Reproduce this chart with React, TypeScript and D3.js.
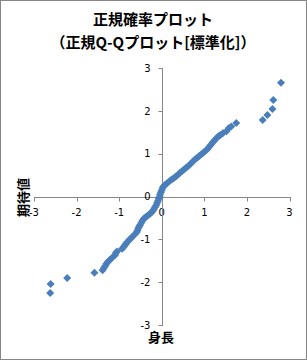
import * as React from 'react';
import { useEffect, useRef } from 'react';
import * as d3 from 'd3';

// standardized height (x) and expected normal value (y)
const heightZ = [
  -2.62, -2.61, -2.22, -1.58, -1.39, -1.36, -1.33, -1.30, -1.27, -1.22,
  -1.18, -1.10, -1.08, -1.05, -0.93, -0.90, -0.87, -0.84, -0.81, -0.77,
  -0.73, -0.69, -0.62, -0.59, -0.57, -0.55, -0.53, -0.51, -0.48, -0.45,
  -0.42, -0.38, -0.34, -0.30, -0.26, -0.22, -0.19, -0.16, -0.13, -0.11,
  -0.09, -0.07, -0.05, -0.04, -0.02, 0.00, 0.02, 0.04, 0.08, 0.13,
  0.18, 0.23, 0.28, 0.33, 0.38, 0.43, 0.48, 0.53, 0.58, 0.63,
  0.68, 0.73, 0.78, 0.83, 0.88, 0.93, 0.98, 1.03, 1.08, 1.12,
  1.16, 1.20, 1.24, 1.29, 1.33, 1.38, 1.44, 1.52, 1.57, 1.63,
  1.75, 2.37, 2.48, 2.60, 2.62, 2.80,
];
const expected = [
  -2.25, -2.04, -1.90, -1.78, -1.72, -1.67, -1.62, -1.57, -1.53, -1.48,
  -1.44, -1.37, -1.32, -1.28, -1.22, -1.18, -1.14, -1.10, -1.06, -1.02,
  -0.98, -0.94, -0.87, -0.83, -0.79, -0.74, -0.70, -0.66, -0.61, -0.56,
  -0.51, -0.48, -0.45, -0.42, -0.39, -0.35, -0.30, -0.25, -0.20, -0.15,
  -0.10, -0.05, 0.00, 0.05, 0.10, 0.15, 0.20, 0.24, 0.28, 0.32,
  0.36, 0.40, 0.43, 0.47, 0.51, 0.56, 0.60, 0.64, 0.68, 0.72,
  0.77, 0.82, 0.87, 0.91, 0.95, 0.99, 1.03, 1.07, 1.12, 1.17,
  1.22, 1.27, 1.32, 1.37, 1.41, 1.44, 1.49, 1.53, 1.60, 1.64,
  1.72, 1.79, 1.91, 2.05, 2.26, 2.66,
];
const ticks = [-3, -2, -1, 0, 1, 2, 3];
const titleLines = ['正規確率プロット', '（正規Q-Qプロット[標準化]）'];
const xTitle = '身長';
const yTitle = '期待値';

const W = 307;
const H = 360;
const axisColor = '#868686';
const markerColor = '#4A7EBB';
const font = '"Noto Sans CJK JP", "DejaVu Sans", sans-serif';

export default function App() {
  const ref = useRef<SVGSVGElement>(null);

  useEffect(() => {
    const svg = d3.select(ref.current);
    svg.selectAll('*').remove();

    const x = d3.scaleLinear().domain([-3, 3]).range([34, 289.5]);
    const y = d3.scaleLinear().domain([-3, 3]).range([325, 68.3]);
    const x0 = Math.round(x(0)) + 0.5;
    const y0 = Math.round(y(0)) + 0.5;

    // chart frame
    svg.append('rect')
      .attr('x', 0.5).attr('y', 0.5)
      .attr('width', W - 1).attr('height', H - 1)
      .attr('fill', '#fff').attr('stroke', axisColor);

    // title
    const title = svg.append('text')
      .attr('text-anchor', 'middle')
      .attr('font-family', font)
      .attr('font-weight', 'bold')
      .attr('font-size', 15);
    titleLines.forEach((t, i) => {
      title.append('tspan').attr('x', 153).attr('y', 25 + i * 23).text(t);
    });

    // axes cross at the origin
    const gx = svg.append('g').attr('transform', `translate(0,${y0})`);
    gx.append('line')
      .attr('x1', Math.round(x(-3))).attr('x2', Math.round(x(3)) + 1)
      .attr('stroke', axisColor);
    gx.selectAll('line.tick').data(ticks).enter().append('line')
      .attr('x1', (d) => Math.round(x(d)) + 0.5).attr('x2', (d) => Math.round(x(d)) + 0.5)
      .attr('y1', 0).attr('y2', 4)
      .attr('stroke', axisColor);
    gx.selectAll('text').data(ticks).enter().append('text')
      .attr('x', (d) => x(d))
      .attr('y', 18)
      .attr('text-anchor', 'middle')
      .attr('font-family', '"DejaVu Sans", sans-serif')
      .attr('font-size', 10)
      .text((d) => d);

    const gy = svg.append('g').attr('transform', `translate(${x0},0)`);
    gy.append('line')
      .attr('y1', Math.round(y(3))).attr('y2', Math.round(y(-3)) + 1)
      .attr('stroke', axisColor);
    gy.selectAll('line.tick').data(ticks).enter().append('line')
      .attr('y1', (d) => Math.round(y(d)) + 0.5).attr('y2', (d) => Math.round(y(d)) + 0.5)
      .attr('x1', -4).attr('x2', 0)
      .attr('stroke', axisColor);
    gy.selectAll('text').data(ticks).enter().append('text')
      .attr('x', -12)
      .attr('y', (d) => y(d))
      .attr('dy', '0.35em')
      .attr('text-anchor', 'end')
      .attr('font-family', '"DejaVu Sans", sans-serif')
      .attr('font-size', 10)
      .text((d) => d);

    // axis titles
    svg.append('text')
      .attr('x', 161).attr('y', 342)
      .attr('text-anchor', 'middle')
      .attr('font-family', font).attr('font-weight', 'bold').attr('font-size', 13)
      .text(xTitle);
    svg.append('text')
      .attr('transform', 'translate(28,197.5) rotate(-90)')
      .attr('text-anchor', 'middle')
      .attr('font-family', font).attr('font-weight', 'bold').attr('font-size', 13)
      .text(yTitle);

    // diamond markers
    const diamond = d3.symbol(d3.symbolSquare, 32);
    svg.append('g').selectAll('path')
      .data(heightZ.map((v, i) => [v, expected[i]]))
      .enter().append('path')
      .attr('d', diamond)
      .attr('transform', (d) => `translate(${x(d[0])},${y(d[1])}) rotate(45)`)
      .attr('fill', markerColor);
  }, []);

  return (
    <svg
      ref={ref}
      width={W}
      height={H}
      style={{ position: 'absolute', left: 0, top: 0 }}
    />
  );
}
